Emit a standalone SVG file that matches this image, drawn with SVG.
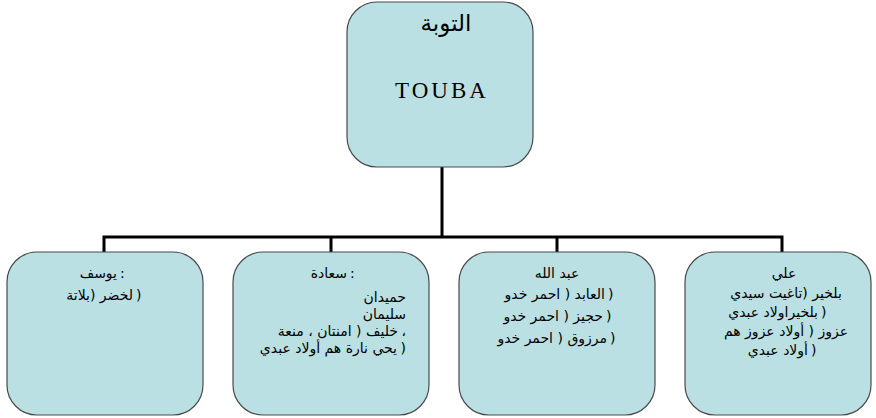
<svg xmlns="http://www.w3.org/2000/svg" width="876" height="418" viewBox="0 0 876 418">
<style>
.box{fill:#BAE0E3;stroke:#4a4a4a;stroke-width:1.2}
.con{stroke:#000;stroke-width:3;fill:none}
.ar{font-family:"DejaVu Sans","Noto Sans",sans-serif;font-size:14px;fill:#000}
.mid{text-anchor:middle}
.end{text-anchor:end}
.st{text-anchor:start}
</style>
<rect width="876" height="418" fill="#fff"/>
<g id="connectors">
<path class="con" d="M442 167V237M104 252V237H782V252M331 237V252M557 237V252"/>
</g>
<g id="node-touba">
<rect class="box" x="347" y="2" width="186" height="165" rx="30"/>
<text class="ar mid" x="446" y="31" style="font-size:23px">التوبة</text>
<text x="442" y="98" text-anchor="middle" style="font-family:'Liberation Serif',serif;font-size:23px;letter-spacing:3px">TOUBA</text>
</g>
<g id="node-youssef">
<rect class="box" x="7" y="252" width="196" height="163" rx="30"/>
<text class="ar end" x="117" y="278"><tspan>يوسف</tspan></text><text class="ar st" x="120" y="278">:</text>
<text class="ar end" x="133" y="300"><tspan>لخضر</tspan> (<tspan>بلاتة</tspan></text><text class="ar st" x="136" y="300">)</text>
</g>
<g id="node-saada">
<rect class="box" x="233" y="252" width="196" height="163" rx="30"/>
<text class="ar end" x="347" y="278"><tspan>سعادة</tspan></text><text class="ar st" x="350" y="278">:</text>
<text class="ar end" x="406" y="302"><tspan>حميدان</tspan></text>
<text class="ar end" x="406" y="319"><tspan>سليمان</tspan></text>
<text class="ar end" x="398" y="336"><tspan>خليف</tspan> ( <tspan>امنتان</tspan> ، <tspan>منعة</tspan></text><text class="ar end" x="406" y="336">،</text>
<text class="ar end" x="397" y="353"><tspan>يحي</tspan> <tspan>نارة</tspan> <tspan>هم</tspan> <tspan>أولاد</tspan> <tspan>عبدي</tspan></text><text class="ar end" x="406" y="353">)</text>
</g>
<g id="node-abdallah">
<rect class="box" x="459" y="252" width="196" height="163" rx="30"/>
<text class="ar mid" x="557" y="278"><tspan>عبد</tspan> <tspan>الله</tspan></text>
<text class="ar end" x="605" y="299"><tspan>العابد</tspan> ( <tspan>احمر</tspan> <tspan>خدو</tspan></text><text class="ar st" x="608" y="299">)</text>
<text class="ar end" x="603" y="321"><tspan>حجيز</tspan> ( <tspan>احمر</tspan> <tspan>خدو</tspan></text><text class="ar st" x="606" y="321">)</text>
<text class="ar end" x="607" y="343"><tspan>مرزوق</tspan> ( <tspan>احمر</tspan> <tspan>خدو</tspan></text><text class="ar st" x="610" y="343">)</text>
</g>
<g id="node-ali">
<rect class="box" x="685" y="252" width="186" height="163" rx="30"/>
<text class="ar mid" x="784" y="278"><tspan>علي</tspan></text>
<text class="ar mid" x="786" y="298"><tspan>بلخير</tspan> (<tspan>تاغيت</tspan> <tspan>سيدي</tspan></text>
<text class="ar end" x="818" y="317"><tspan>بلخيراولاد</tspan> <tspan>عبدي</tspan></text><text class="ar st" x="821" y="317">)</text>
<text class="ar mid" x="786" y="336"><tspan>عزوز</tspan> ( <tspan>أولاد</tspan> <tspan>عزوز</tspan> <tspan>هم</tspan></text>
<text class="ar end" x="808" y="355"><tspan>أولاد</tspan> <tspan>عبدي</tspan></text><text class="ar st" x="811" y="355">)</text>
</g>
</svg>
